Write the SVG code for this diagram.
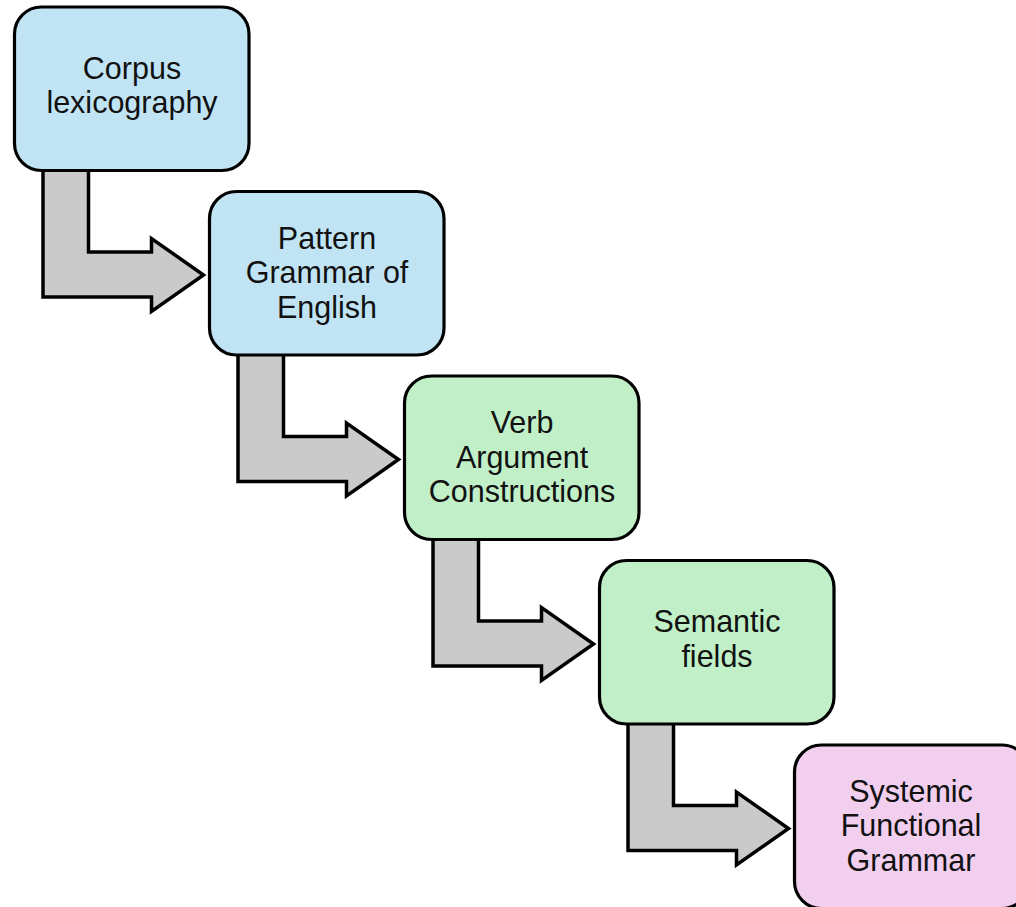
<svg xmlns="http://www.w3.org/2000/svg" width="1016" height="907" viewBox="0 0 1016 907">
  <defs>
    <style>
      .box { stroke: #000; stroke-width: 3.2; }
      .blue { fill: #C1E4F5; }
      .green { fill: #C1F0C8; }
      .pink { fill: #F2CEEF; }
      .arrow { fill: #CACACA; stroke: #000; stroke-width: 3.5; stroke-linejoin: miter; }
      .label { font-family: "Liberation Sans", Arial, sans-serif; font-size: 30.5px; fill: #111; text-anchor: middle; }
    </style>
    <!-- bent block arrow: down out of one box, then right into the next -->
    <path id="bent-arrow" d="M43,160 L88.5,160 L88.5,252 L151.5,252 L151.5,238.5 L203.5,275 L151.5,311.5 L151.5,297 L43,297 Z"/>
  </defs>

  <rect width="1016" height="907" fill="#fff"/>

  <g id="connectors">
    <use href="#bent-arrow" class="arrow"/>
    <use href="#bent-arrow" class="arrow" transform="translate(195,184.5)"/>
    <use href="#bent-arrow" class="arrow" transform="translate(390,369)"/>
    <use href="#bent-arrow" class="arrow" transform="translate(585,553.5)"/>
  </g>

  <g id="corpus-lexicography">
    <rect class="box blue" x="14.5" y="7" width="234.5" height="163.5" rx="27"/>
    <text class="label" x="132" y="78.5">Corpus</text>
    <text class="label" x="132" y="113">lexicography</text>
  </g>

  <g id="pattern-grammar">
    <rect class="box blue" x="209.5" y="191.5" width="234.5" height="163.5" rx="27"/>
    <text class="label" x="327" y="248.5">Pattern</text>
    <text class="label" x="327" y="283">Grammar of</text>
    <text class="label" x="327" y="317.5">English</text>
  </g>

  <g id="verb-argument-constructions">
    <rect class="box green" x="404.5" y="376" width="234.5" height="163.5" rx="27"/>
    <text class="label" x="522" y="433">Verb</text>
    <text class="label" x="522" y="467.5">Argument</text>
    <text class="label" x="522" y="502">Constructions</text>
  </g>

  <g id="semantic-fields">
    <rect class="box green" x="599.5" y="560.5" width="234.5" height="163.5" rx="27"/>
    <text class="label" x="717" y="632">Semantic</text>
    <text class="label" x="717" y="666.5">fields</text>
  </g>

  <g id="systemic-functional-grammar">
    <rect class="box pink" x="794.5" y="745" width="234.5" height="163.5" rx="27"/>
    <text class="label" x="911" y="801.5">Systemic</text>
    <text class="label" x="911" y="836">Functional</text>
    <text class="label" x="911" y="870.5">Grammar</text>
  </g>
</svg>
